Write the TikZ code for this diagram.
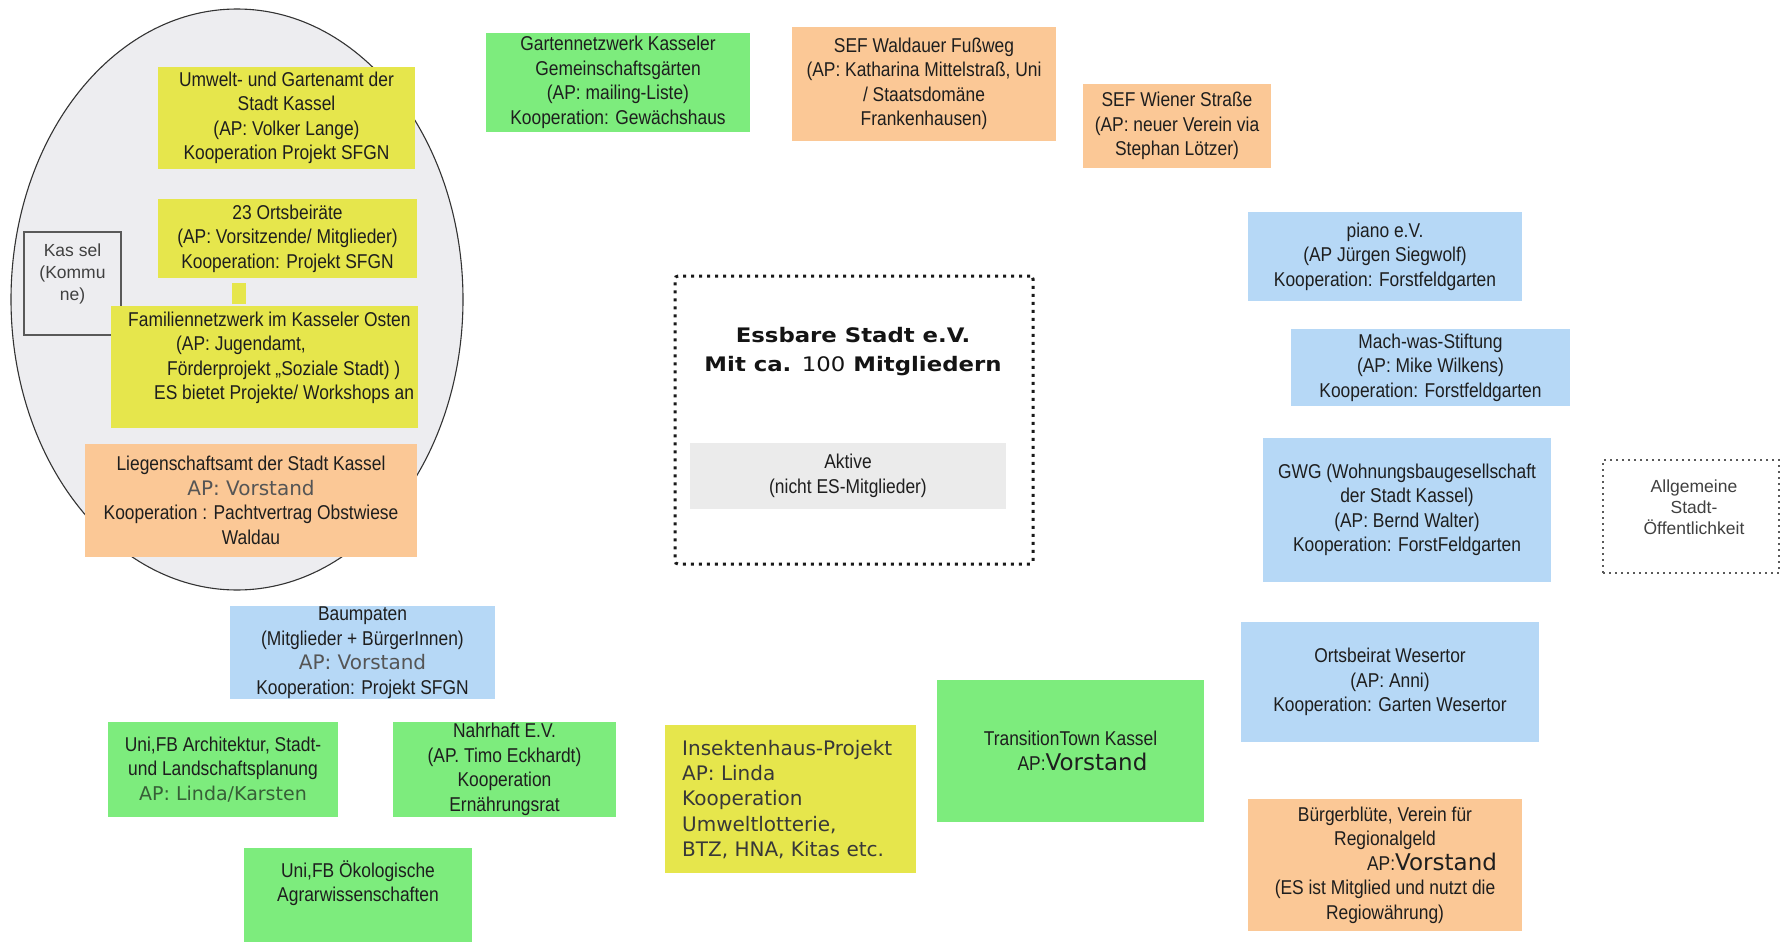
\documentclass[tikz,border=0pt]{standalone}
\usepackage{fontspec}
\usetikzlibrary{shapes.geometric}
\setmainfont{Liberation Sans}
\newfontfamily\cond{Liberation Sans}[FakeStretch=0.87]
\newfontfamily\dvsans{DejaVu Sans}
\newfontfamily\dvwide{DejaVu Sans}[FakeStretch=1.14]
\definecolor{cyel}{RGB}{230,230,76}
\definecolor{corg}{RGB}{251,200,150}
\definecolor{cgrn}{RGB}{125,236,125}
\definecolor{cblu}{RGB}{182,216,246}
\definecolor{cell}{RGB}{237,237,240}
\definecolor{cakt}{RGB}{235,235,235}
\definecolor{txt}{RGB}{30,30,30}
\definecolor{apgray}{RGB}{85,85,85}
\definecolor{apgreen}{RGB}{55,95,55}
\newcommand\apv{{\dvsans\color{apgray}AP: Vorstand}}
\newcommand\bigv{{\dvsans\fontsize{23}{24.5}\selectfont Vorstand}}
\newcommand\rbox[7][]{\node[box,fill=#3,minimum width={#6-#4},minimum height={#7-#5},#1] (#2) at ({(#4+#6)/2},{(#5+#7)/2})}
\tikzset{
  box/.style={rectangle, inner sep=0pt, outer sep=0pt, align=center, text=txt, font=\cond\fontsize{20}{24.5}\selectfont},
  txtonly/.style={inner sep=0pt, text=txt, font=\cond\fontsize{20}{24.5}\selectfont},
}
\begin{document}
\begin{tikzpicture}[x=1pt,y=-1pt]
\path[use as bounding box] (0,0) rectangle (1780,942);
\clip (0,0) rectangle (1780,942);
\fill[white] (0,0) rectangle (1780,942);

% Kommune ellipse
\node[ellipse, draw=black!80, line width=1.1pt, fill=cell, minimum width=452, minimum height=581, inner sep=0pt] (kom) at (237,299.5) {};
\rbox[draw=black!65, line width=1.2pt]{kassel}{cell}{24}{232}{121}{335}{};
\node[inner sep=0pt, align=center, text=black!75, font=\fontsize{17.5}{22}\selectfont] (kasseltxt) at (72.5,274) {Kas sel\\(Kommu\\ne)};

\rbox{umwelt}{cyel}{158}{67}{415}{169}{Umwelt- und Gartenamt der\\Stadt Kassel\\(AP: Volker Lange)\\Kooperation Projekt SFGN};
\rbox{orts}{cyel}{158}{199}{417}{278}{23 Ortsbeiräte\\(AP: Vorsitzende/ Mitglieder)\\Kooperation: Projekt SFGN};
\rbox{fam}{cyel}{111}{306}{418}{428}{};
\node[txtonly, align=left, anchor=west] (famtxt) at (128,358) {Familiennetzwerk im Kasseler Osten\\\hspace*{48pt}(AP: Jugendamt,\\\hspace*{39pt}Förderprojekt „Soziale Stadt) )\\\hspace*{26pt}ES bietet Projekte/ Workshops an};
\draw[cyel, line width=14pt, shorten <=5pt, shorten >=2pt] ([xshift=-48.5pt]orts.south) -- ([xshift=-48.5pt]orts.south |- fam.north);
\rbox{lieg}{corg}{85}{444}{417}{557}{Liegenschaftsamt der Stadt Kassel\\\apv\\Kooperation : Pachtvertrag Obstwiese\\Waldau};

% top row
\rbox{garten}{cgrn}{486}{33}{750}{132}{Gartennetzwerk Kasseler\\Gemeinschaftsgärten\\(AP: mailing-Liste)\\Kooperation: Gewächshaus};
\rbox{waldau}{corg}{792}{27}{1056}{141}{SEF Waldauer Fußweg\\(AP: Katharina Mittelstraß, Uni\\/ Staatsdomäne\\Frankenhausen)};
\rbox{wiener}{corg}{1083}{84}{1271}{168}{SEF Wiener Straße\\(AP: neuer Verein via\\Stephan Lötzer)};

% centre
\node[draw=black!90, line width=3pt, dash pattern=on 3pt off 5pt, rounded corners=3pt, minimum width=358, minimum height=288, inner sep=0pt] (es) at (854,420) {};
\node[inner sep=0pt, align=center, text=black!92, font=\dvwide\bfseries\fontsize{20}{29}\selectfont] (estitle) at (853,351.5) {Essbare Stadt e.V.\\Mit ca. {\mdseries 100} Mitgliedern};
\rbox{aktive}{cakt}{690}{443}{1006}{509}{Aktive\\(nicht ES-Mitglieder)};

% right column
\rbox{piano}{cblu}{1248}{212}{1522}{301}{piano e.V.\\(AP Jürgen Siegwolf)\\Kooperation: Forstfeldgarten};
\rbox{mach}{cblu}{1291}{329}{1570}{406}{Mach-was-Stiftung\\(AP: Mike Wilkens)\\Kooperation: Forstfeldgarten};
\rbox{gwg}{cblu}{1263}{438}{1551}{582}{GWG (Wohnungsbaugesellschaft\\der Stadt Kassel)\\(AP: Bernd Walter)\\Kooperation: ForstFeldgarten};
\node[draw=black!65, line width=2pt, dash pattern=on 2pt off 4pt, minimum width=176, minimum height=113, inner sep=0pt] (allg) at (1691,516.5) {};
\node[inner sep=0pt, align=center, text=black!75, font=\fontsize{17.5}{21}\selectfont] (allgtxt) at (1694,507) {Allgemeine\\Stadt-\\Öffentlichkeit};
\rbox{weser}{cblu}{1241}{622}{1539}{742}{Ortsbeirat Wesertor\\(AP: Anni)\\Kooperation: Garten Wesertor};
\rbox{buerger}{corg}{1248}{799}{1522}{931}{Bürgerblüte, Verein für\\Regionalgeld\\\hspace*{94pt}AP:\bigv\\(ES ist Mitglied und nutzt die\\Regiowährung)};

% bottom
\rbox{baum}{cblu}{230}{606}{495}{699}{Baumpaten\\(Mitglieder + BürgerInnen)\\\apv\\Kooperation: Projekt SFGN};
\rbox{arch}{cgrn}{108}{722}{338}{817}{Uni,FB Architektur, Stadt-\\und Landschaftsplanung\\{\dvsans\fontsize{19}{24.5}\selectfont\color{apgreen}AP: Linda/Karsten}};
\rbox{nahr}{cgrn}{393}{722}{616}{817}{Nahrhaft E.V.\\(AP. Timo Eckhardt)\\Kooperation\\Ernährungsrat};
\rbox{oeko}{cgrn}{244}{848}{472}{950}{};
\node[txtonly, align=center] (oekotxt) at (358,883) {Uni,FB Ökologische\\Agrarwissenschaften};
\rbox{insekt}{cyel}{665}{725}{916}{873}{};
\node[inner sep=0pt, align=left, anchor=west, text=black!78, font=\dvsans\fontsize{20}{25.2}\selectfont] (insekttxt) at (682,799.5) {Insektenhaus-Projekt\\AP: Linda\\Kooperation\\Umweltlotterie,\\BTZ, HNA, Kitas etc.};
\rbox{trans}{cgrn}{937}{680}{1204}{822}{TransitionTown Kassel\\\hspace*{24pt}AP:\bigv};
\end{tikzpicture}
\end{document}
